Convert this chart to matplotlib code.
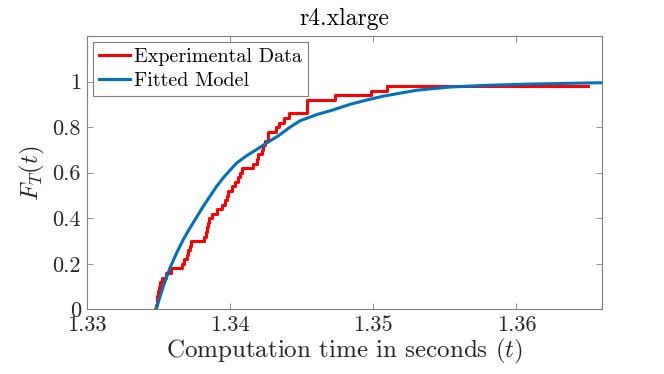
import matplotlib
matplotlib.use("Agg")
import matplotlib.pyplot as plt

# Experimental ECDF (step breakpoints: time, level after the step)
exp_t = [1.334780, 1.334836, 1.334885, 1.334941, 1.334990, 1.335038, 1.335094,
         1.335234, 1.335513, 1.335862, 1.336664, 1.336825, 1.336978, 1.337104,
         1.337188, 1.337292, 1.338200, 1.338318, 1.338409, 1.338465, 1.338514,
         1.338758, 1.339086, 1.339435, 1.339665, 1.339805, 1.339895, 1.340133,
         1.340363, 1.340593, 1.340712, 1.340831, 1.341619, 1.341877, 1.341989,
         1.342226, 1.342338, 1.342456, 1.342666, 1.343224, 1.343398, 1.343747,
         1.344131, 1.345352, 1.347341, 1.349853, 1.350991, 1.364996]
exp_F = [0.00, 0.02, 0.04, 0.06, 0.08, 0.10, 0.12,
         0.14, 0.16, 0.18, 0.20, 0.22, 0.24, 0.26,
         0.28, 0.30, 0.32, 0.34, 0.36, 0.38, 0.40,
         0.42, 0.44, 0.46, 0.48, 0.50, 0.52, 0.54,
         0.56, 0.58, 0.60, 0.62, 0.64, 0.66, 0.68,
         0.70, 0.72, 0.74, 0.78, 0.80, 0.82, 0.84,
         0.86, 0.92, 0.94, 0.96, 0.98, 0.98]

# Fitted model curve
fit_t = [1.334850, 1.335359, 1.335827, 1.336295, 1.336755, 1.337223, 1.337690,
         1.338151, 1.338618, 1.339086, 1.339546, 1.340014, 1.340482, 1.341179,
         1.341877, 1.342575, 1.343385, 1.344201, 1.344899, 1.346064, 1.347223,
         1.348388, 1.349553, 1.350712, 1.353043, 1.355366, 1.357690, 1.360949,
         1.366000]
fit_F = [0.000, 0.102, 0.183, 0.249, 0.307, 0.358, 0.406,
         0.453, 0.497, 0.541, 0.578, 0.611, 0.643, 0.675,
         0.702, 0.731, 0.762, 0.800, 0.828, 0.855, 0.876,
         0.900, 0.919, 0.936, 0.962, 0.976, 0.983, 0.989,
         0.995]

x_ticks = [1.33, 1.34, 1.35, 1.36]
x_tick_labels = ["1.33", "1.34", "1.35", "1.36"]
y_ticks = [0, 0.2, 0.4, 0.6, 0.8, 1.0]
y_tick_labels = ["0", "0.2", "0.4", "0.6", "0.8", "1"]

plt.rcParams["font.family"] = "serif"
plt.rcParams["font.serif"] = ["cmr10"]
plt.rcParams["mathtext.fontset"] = "cm"
plt.rcParams["axes.formatter.use_mathtext"] = True

fig = plt.figure(figsize=(6.64, 3.74), dpi=100)
ax = fig.add_axes([0.1303, 0.1725, 0.777, 0.7313])

ax.plot(exp_t, exp_F, drawstyle="steps-post", color="#FF0000", lw=2.2,
        label="Experimental Data")
ax.plot(fit_t, fit_F, color="#0072BD", lw=2.2, label="Fitted Model")

ax.set_xlim(1.33, 1.366)
ax.set_ylim(0, 1.2)
ax.set_xticks(x_ticks)
ax.set_xticklabels(x_tick_labels)
ax.set_yticks(y_ticks)
ax.set_yticklabels(y_tick_labels)

edge = "#262626"
for s in ax.spines.values():
    s.set_color("#7f7f7f")
    s.set_linewidth(0.8)
ax.tick_params(direction="in", length=4, width=0.6, color="#7f7f7f",
               labelsize=16, labelcolor=edge, top=True, right=True, pad=4)

ax.set_xlabel(r"Computation time in seconds $(t)$", fontsize=18, color=edge, labelpad=2)
ax.set_ylabel(r"$F_T(t)$", fontsize=18, color=edge, labelpad=4)
ax.set_title("r4.xlarge", fontsize=17, color="black", pad=8)

leg = ax.legend(loc="upper left", fontsize=14.5, frameon=True, fancybox=False,
                edgecolor="#7f7f7f", framealpha=1, borderpad=0.3,
                handlelength=1.55, handletextpad=0.2, labelspacing=0.3,
                borderaxespad=0.3)
leg.get_frame().set_linewidth(0.8)

fig.savefig("out.png", dpi=100)
